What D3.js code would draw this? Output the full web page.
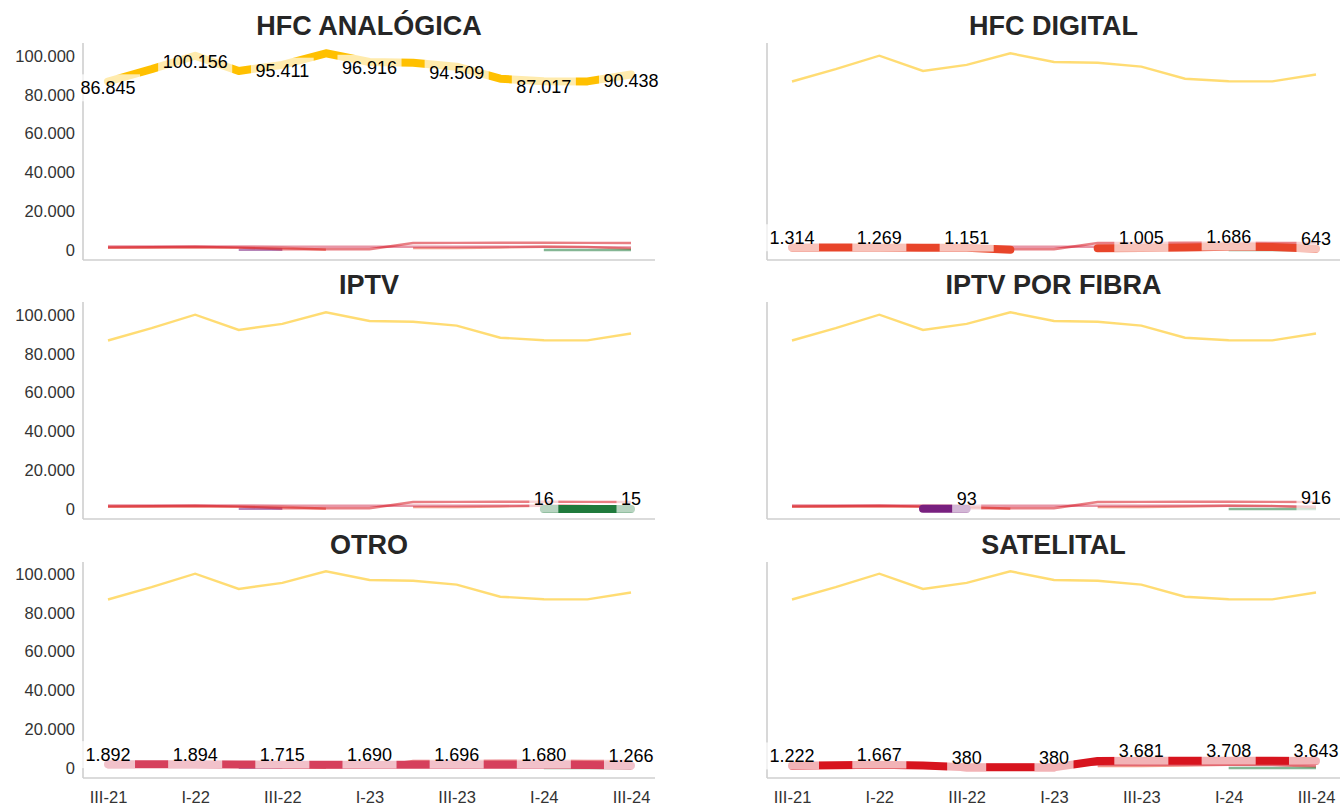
<!DOCTYPE html>
<html><head><meta charset="utf-8">
<script src="https://cdn.jsdelivr.net/npm/d3@7"></script>
<style>
body{margin:0;background:#fff;}
svg{display:block;font-family:"Liberation Sans",Arial,Helvetica,sans-serif;}
</style>
</head><body>
<svg id="chart" width="1340" height="807"></svg>
<script>
// ---- data ----
const quarters = ["III-21","IV-21","I-22","II-22","III-22","IV-22","I-23","II-23","III-23","IV-23","I-24","II-24","III-24"];
const xTickLabels = ["III-21","I-22","III-22","I-23","III-23","I-24","III-24"];
const yTickValues = [0, 20000, 40000, 60000, 80000, 100000];

const seriesNames = ["HFC ANALÓGICA","HFC DIGITAL","IPTV","IPTV POR FIBRA","OTRO","SATELITAL"];
const hfcAnalogica = [86845, 93200, 100156, 92300, 95411, 101400, 96916, 96500, 94509, 88300, 87017, 86900, 90438];
const hfcDigital   = [1314, 1300, 1269, 1200, 1151, 150, null, 950, 1005, 1300, 1686, 1600, 643];
const iptv         = [null, null, null, null, null, null, null, null, null, null, 16, 15, 15];
const iptvFibra    = [null, null, null, 90, 93, null, null, null, null, null, null, null, 916];
const otro         = [1892, 1890, 1894, 1800, 1715, 1700, 1690, 1690, 1696, 1690, 1680, 1500, 1266];
const satelital    = [1222, 1450, 1667, 1250, 380, 380, 380, 3600, 3681, 3700, 3708, 3690, 3643];
const seriesValues = [hfcAnalogica, hfcDigital, iptv, iptvFibra, otro, satelital];
const seriesColors = ["#ffc000", "#e8452a", "#1f7a3c", "#78207f", "#d6405c", "#d7141e"];

// ---- layout ----
const svg = d3.select("#chart");
const cols = [{left: 83, right: 655}, {left: 767, right: 1340}];
const rows = [{top: 43, bottom: 260}, {top: 302, bottom: 519}, {top: 562, bottom: 778}];
const locale = d3.formatLocale({decimal: ",", thousands: ".", grouping: [3], currency: ["$", ""]});
const fmt = locale.format(",");

seriesNames.forEach((name, si) => {
  const c = cols[si % 2], r = rows[Math.floor(si / 2)];
  const g = svg.append("g");
  const x = d3.scalePoint().domain(quarters).range([c.left + 25, c.right - 24]);
  const y = d3.scaleLinear().domain([0, 100000]).range([r.bottom - 10, r.bottom - 204]);

  // spines
  g.append("line").attr("x1", c.left).attr("x2", c.left).attr("y1", r.top).attr("y2", r.bottom)
    .attr("stroke", "#cfcfcf").attr("stroke-width", 1.6);
  g.append("line").attr("x1", c.left).attr("x2", c.right).attr("y1", r.bottom).attr("y2", r.bottom)
    .attr("stroke", "#cfcfcf").attr("stroke-width", 1.6);

  // y axis labels (left column only)
  if (si % 2 === 0) {
    const ya = g.append("g").attr("transform", `translate(${c.left},0)`)
      .call(d3.axisLeft(y).tickValues(yTickValues).tickSize(0).tickPadding(8).tickFormat(fmt));
    ya.select(".domain").remove();
    ya.selectAll("text").attr("font-size", 16.5).attr("fill", "#333").attr("font-family", "Liberation Sans, Arial, sans-serif");
  }
  // x axis labels (bottom row only)
  if (Math.floor(si / 2) === 2) {
    const xa = g.append("g").attr("transform", `translate(0,${r.bottom})`)
      .call(d3.axisBottom(x).tickValues(xTickLabels).tickSize(0).tickPadding(13.5));
    xa.select(".domain").remove();
    xa.selectAll("text").attr("font-size", 16.5).attr("fill", "#333").attr("font-family", "Liberation Sans, Arial, sans-serif");
  }

  // title
  g.append("text").attr("x", (c.left + c.right) / 2).attr("y", r.top - 8)
    .attr("text-anchor", "middle").attr("font-size", 27).attr("font-weight", "bold")
    .attr("fill", "#262626").text(name);

  const defined = vals => (d, i) => d != null && ((i > 0 && vals[i - 1] != null) || (i < vals.length - 1 && vals[i + 1] != null));

  // background thin lines: all series
  seriesValues.forEach((vals, k) => {
    const line = d3.line().defined(defined(vals)).x((d, i) => x(quarters[i])).y(d => y(d));
    g.append("path").attr("d", line(vals)).attr("fill", "none")
      .attr("stroke", seriesColors[k]).attr("stroke-opacity", 0.55).attr("stroke-width", 2.4);
  });

  // highlighted series
  const vals = seriesValues[si];
  const hl = d3.line().defined(defined(vals)).x((d, i) => x(quarters[i])).y(d => y(d));
  g.append("path").attr("d", hl(vals)).attr("fill", "none")
    .attr("stroke", seriesColors[si]).attr("stroke-width", 8)
    .attr("stroke-linecap", "round").attr("stroke-linejoin", "round");

  // labels at every other quarter
  const labelData = vals.map((v, i) => ({v, i})).filter(d => d.v != null && d.i % 2 === 0);
  const lg = g.append("g");
  labelData.forEach(d => {
    const cx = x(quarters[d.i]);
    const cy = y(d.v) + (d.v > 50000 ? 6 : -10);
    const box = lg.append("rect");
    const t = lg.append("text").attr("x", cx).attr("y", cy).attr("dy", "0.35em")
      .attr("text-anchor", "middle").attr("font-size", 18).attr("fill", "#000").text(fmt(d.v));
    const b = t.node().getBBox();
    box.attr("x", b.x - 4.5).attr("y", b.y - 3.5).attr("width", b.width + 9).attr("height", b.height + 7)
      .attr("fill", "#fff").attr("fill-opacity", 0.68);
  });
});
</script>
</body></html>
